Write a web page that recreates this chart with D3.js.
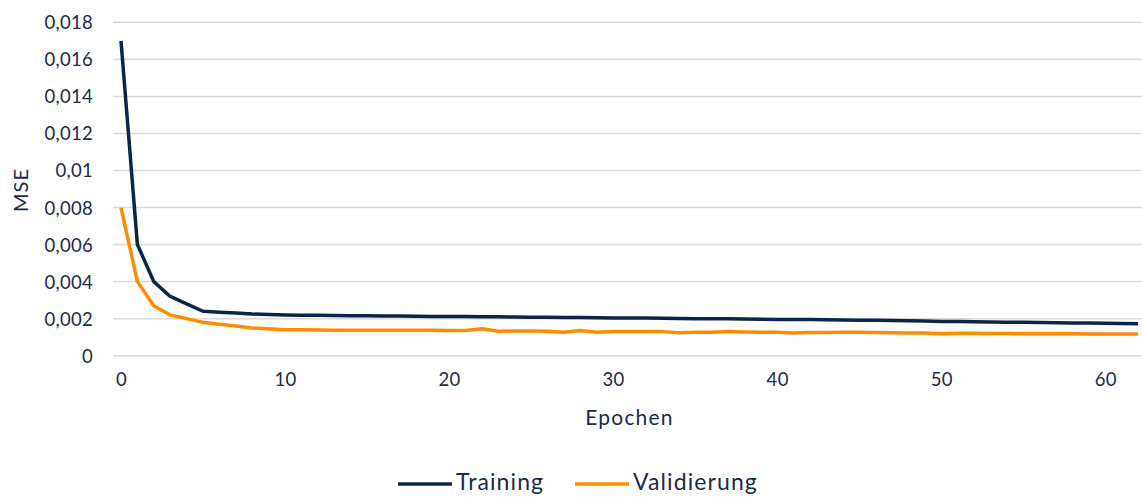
<!DOCTYPE html>
<html>
<head>
<meta charset="utf-8">
<script src="https://cdn.jsdelivr.net/npm/d3@7"></script>
<style>
  html, body { margin: 0; padding: 0; background: #fff; }
  svg text { font-family: "Lato", "Noto Sans", sans-serif; fill: #1b2a4a; }
</style>
</head>
<body>
<svg id="chart" width="1142" height="497"></svg>
<script>
// MSE per epoch (values in units of 1e-3)
const epochs = d3.range(0, 63);
const training = [
  17.0, 6.0, 4.0, 3.2, 2.8, 2.4, 2.35, 2.3, 2.25, 2.22,
  2.2, 2.19, 2.18, 2.17, 2.16, 2.16, 2.15, 2.14, 2.13, 2.12,
  2.12, 2.11, 2.10, 2.10, 2.09, 2.08, 2.07, 2.06, 2.06, 2.05,
  2.04, 2.03, 2.03, 2.02, 2.01, 2.00, 1.99, 1.99, 1.98, 1.97,
  1.96, 1.95, 1.95, 1.94, 1.93, 1.92, 1.91, 1.90, 1.89, 1.87,
  1.85, 1.84, 1.83, 1.82, 1.81, 1.80, 1.79, 1.78, 1.77, 1.76,
  1.75, 1.74, 1.72
];
const validierung = [
  8.0, 4.0, 2.7, 2.2, 2.0, 1.8, 1.7, 1.6, 1.5, 1.45,
  1.40, 1.40, 1.39, 1.38, 1.38, 1.38, 1.37, 1.37, 1.37, 1.37,
  1.36, 1.36, 1.45, 1.32, 1.33, 1.33, 1.32, 1.26, 1.36, 1.26,
  1.31, 1.30, 1.30, 1.30, 1.24, 1.27, 1.27, 1.30, 1.28, 1.27,
  1.26, 1.22, 1.25, 1.25, 1.26, 1.26, 1.25, 1.24, 1.23, 1.22,
  1.19, 1.21, 1.21, 1.20, 1.20, 1.18, 1.19, 1.19, 1.18, 1.17,
  1.17, 1.17, 1.17
];
const yTicks = [0, 0.002, 0.004, 0.006, 0.008, 0.01, 0.012, 0.014, 0.016, 0.018];
const xTicks = [0, 10, 20, 30, 40, 50, 60];
const seriesNames = ["Training", "Validierung"];
const seriesColors = ["#0c2447", "#ff8c00"];

const svg = d3.select("#chart");
const W = 1142;

const x = d3.scaleLinear().domain([0, 62]).range([121, 1138]);
const y = d3.scaleLinear().domain([0, 0.018]).range([355.7, 22.3]);

const fmt = v => v === 0 ? "0" : String(+v.toFixed(3)).replace(".", ",");

// horizontal grid
svg.append("g")
  .selectAll("line")
  .data(yTicks)
  .join("line")
  .attr("x1", 113).attr("x2", W)
  .attr("y1", d => y(d)).attr("y2", d => y(d))
  .attr("stroke", "#d9d9d9").attr("stroke-width", 1.5);

// y axis labels
const yAxis = svg.append("g")
  .attr("transform", "translate(108,0)")
  .call(d3.axisLeft(y).tickValues(yTicks).tickFormat(fmt).tickSize(0).tickPadding(15));
yAxis.select(".domain").remove();
yAxis.selectAll("text").attr("font-size", 18.5).attr("dy", "0.35em").attr("letter-spacing", 0.3);

// x axis labels
const xAxis = svg.append("g")
  .attr("transform", "translate(0,356)")
  .call(d3.axisBottom(x).tickValues(xTicks).tickFormat(d3.format("d")).tickSize(0).tickPadding(17));
xAxis.select(".domain").remove();
xAxis.selectAll("text").attr("font-size", 18.5).attr("letter-spacing", 0.3);

// axis titles
svg.append("text")
  .attr("transform", "translate(28,190) rotate(-90)")
  .attr("text-anchor", "middle")
  .attr("font-size", 20)
  .attr("letter-spacing", 1)
  .text("MSE");
svg.append("text")
  .attr("x", x(31)).attr("y", 425)
  .attr("text-anchor", "middle")
  .attr("font-size", 21)
  .attr("letter-spacing", 1.2)
  .text("Epochen");

// series lines
const line = d3.line()
  .x((d, i) => x(epochs[i]))
  .y(d => y(d / 1000));

[training, validierung].forEach((vals, k) => {
  svg.append("path")
    .datum(vals)
    .attr("fill", "none")
    .attr("stroke", seriesColors[k])
    .attr("stroke-width", 3.5)
    .attr("stroke-linejoin", "round")
    .attr("d", line);
});

// legend
const legendX = [398, 575];
const legend = svg.append("g");
seriesNames.forEach((name, k) => {
  legend.append("line")
    .attr("x1", legendX[k]).attr("x2", legendX[k] + 54)
    .attr("y1", 484).attr("y2", 484)
    .attr("stroke", seriesColors[k]).attr("stroke-width", 3.5);
  legend.append("text")
    .attr("x", legendX[k] + 58).attr("y", 482)
    .attr("dy", "0.35em")
    .attr("font-size", 23)
    .attr("letter-spacing", 1.1)
    .text(name);
});
</script>
</body>
</html>
